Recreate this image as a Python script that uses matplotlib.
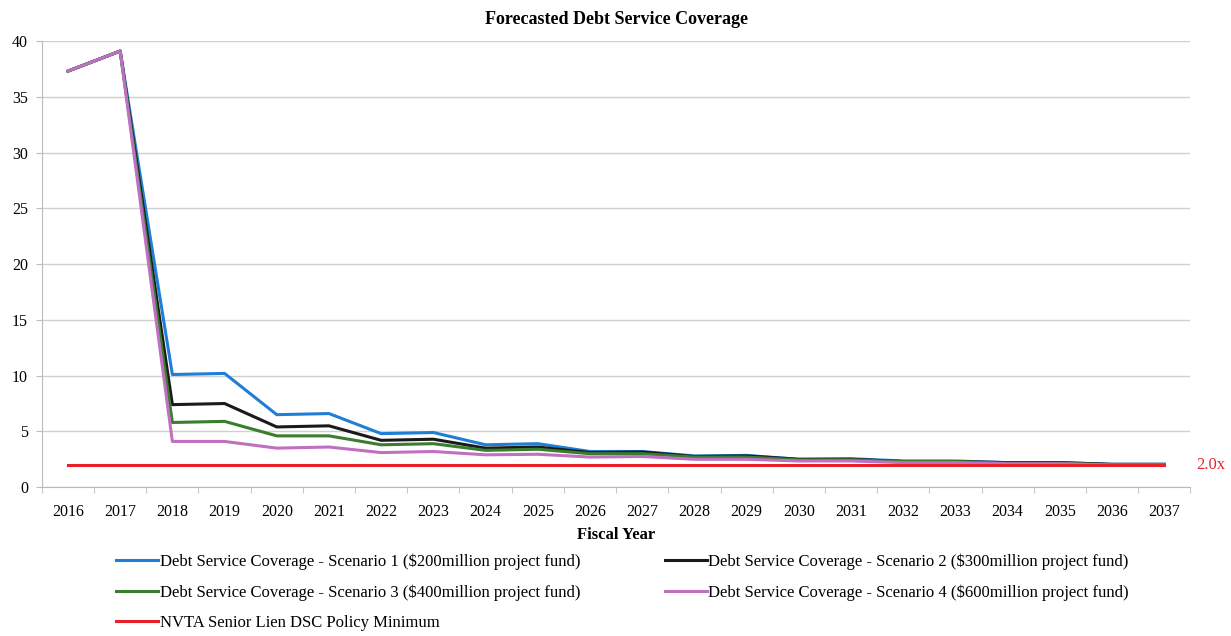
import matplotlib
matplotlib.use("Agg")
import matplotlib.pyplot as plt
import numpy as np

years = list(range(2016, 2038))
scenario1 = [37.3, 39.1, 10.1, 10.2, 6.5, 6.6, 4.8, 4.9, 3.8, 3.9, 3.2, 3.2,
             2.8, 2.85, 2.5, 2.55, 2.35, 2.35, 2.2, 2.2, 2.05, 2.05]
scenario2 = [37.3, 39.1, 7.4, 7.5, 5.4, 5.5, 4.2, 4.3, 3.5, 3.6, 3.1, 3.15,
             2.75, 2.8, 2.5, 2.5, 2.3, 2.3, 2.2, 2.2, 2.05, 2.05]
scenario3 = [37.3, 39.1, 5.8, 5.9, 4.6, 4.6, 3.8, 3.9, 3.3, 3.4, 3.0, 3.0,
             2.7, 2.7, 2.45, 2.45, 2.3, 2.3, 2.15, 2.15, 2.0, 2.0]
scenario4 = [37.3, 39.1, 4.1, 4.1, 3.5, 3.6, 3.1, 3.2, 2.9, 2.95, 2.7, 2.75,
             2.5, 2.5, 2.35, 2.35, 2.2, 2.2, 2.1, 2.1, 2.0, 2.0]
policy_min = [2.0] * len(years)

labels = ["Debt Service Coverage - Scenario 1 ($200million project fund)",
          "Debt Service Coverage - Scenario 2 ($300million project fund)",
          "Debt Service Coverage - Scenario 3 ($400million project fund)",
          "Debt Service Coverage - Scenario 4 ($600million project fund)",
          "NVTA Senior Lien DSC Policy Minimum"]

plt.rcParams['font.family'] = ['Liberation Serif', 'DejaVu Serif']

fig = plt.figure(figsize=(12.31, 6.36), dpi=100)
ax = fig.add_axes([0.034, 0.234, 0.933, 0.7015])

x = np.arange(len(years))
l1, = ax.plot(x, scenario1, color='#1f7fd6', lw=2.2)
l2, = ax.plot(x, scenario2, color='#1a1a1a', lw=2.2)
l3, = ax.plot(x, scenario3, color='#3a7d2e', lw=2.2)
l4, = ax.plot(x, scenario4, color='#c070c0', lw=2.2)
l5, = ax.plot(x, policy_min, color='#e8202a', lw=2.2)

ax.set_xlim(-0.48, len(years) - 0.5)
ax.set_ylim(0, 40)
ax.set_yticks(range(0, 41, 5))
ax.set_xticks(x)
ax.set_xticklabels([str(y) for y in years], fontsize=11.5)
ax.set_xticks(np.arange(-0.5, len(years)), minor=True)
ax.tick_params(axis='x', which='major', length=0, pad=12)
ax.tick_params(axis='x', which='minor', length=4, color='#bbbbbb')
ax.tick_params(axis='y', length=4, color='#bbbbbb', labelsize=11.5, pad=6)
ax.grid(axis='y', color='#d0d0d0', lw=1)
ax.set_axisbelow(True)
for s in ['top', 'right']:
    ax.spines[s].set_visible(False)
for s in ['left', 'bottom']:
    ax.spines[s].set_color('#bbbbbb')

ax.set_title("Forecasted Debt Service Coverage", fontsize=13, fontweight='bold', pad=12)
ax.set_xlabel("Fiscal Year", fontsize=12, fontweight='bold', labelpad=5)

ax.text(len(years) - 0.5 + 0.12, 2.0, "2.0x", color='#e8202a', fontsize=12,
        va='center', ha='left')

fig.legend([l1, l3, l5, l2, l4], [labels[0], labels[2], labels[4], labels[1], labels[3]],
           ncol=2, loc='upper left', bbox_to_anchor=(0.089, 0.14), frameon=False,
           fontsize=12, handlelength=2.5, handletextpad=0.1, columnspacing=5.1,
           labelspacing=0.85, borderaxespad=0)

fig.savefig("out.png", dpi=100)
